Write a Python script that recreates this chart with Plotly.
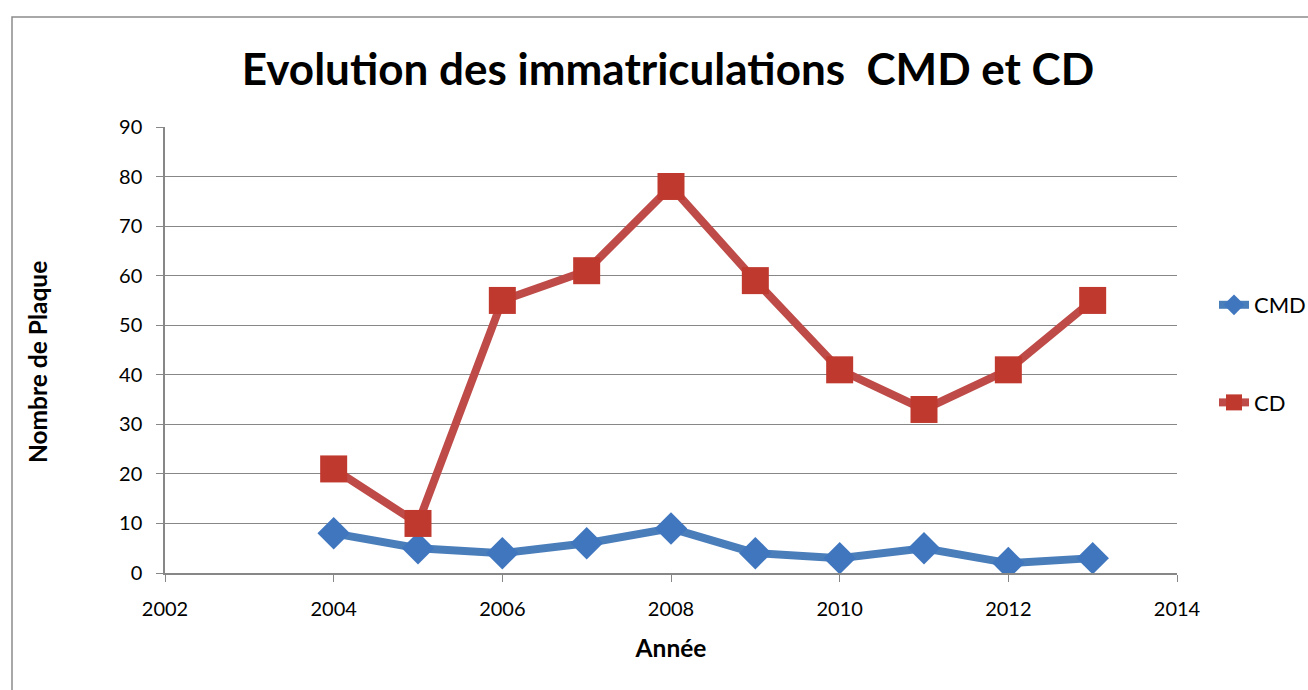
import plotly.graph_objects as go

years = [2004, 2005, 2006, 2007, 2008, 2009, 2010, 2011, 2012, 2013]
cmd = [8, 5, 4, 6, 9, 4, 3, 5, 2, 3]
cd = [21, 10, 55, 61, 78, 59, 41, 33, 41, 55]

W, H = 1330, 700
L, T = 165, 127
pw, ph = 1012, 446
R, B = W - L - pw, H - T - ph

fig = go.Figure()
fig.add_trace(go.Scatter(
    x=years, y=cmd, name="CMD", mode="lines+markers", legendgroup="a",
    line=dict(color="#4A7EBB", width=8),
    marker=dict(symbol="diamond", size=25, color="#3F76BE", line=dict(width=0)),
))
fig.add_trace(go.Scatter(
    x=years, y=cd, name="CD", mode="lines+markers", legendgroup="b",
    line=dict(color="#BE4B48", width=8),
    marker=dict(symbol="square", size=27, color="#C0392F", line=dict(width=0)),
))

fig.add_shape(type="rect", xref="paper", yref="paper",
              x0=(12 - L) / pw, x1=1.3, y0=-0.4, y1=1 + (T - 17) / ph,
              line=dict(color="#8C8C8C", width=1.5), layer="below")

font = "Lato, 'Open Sans', sans-serif"
fig.add_annotation(text="<b>Nombre de Plaque</b>", textangle=-90, showarrow=False,
                   xref="paper", yref="paper", x=(37 - L) / pw, y=(T + ph - 362) / ph,
                   xanchor="center", yanchor="middle",
                   font=dict(family=font, size=24.5, color="black"))

fig.update_layout(
    width=W, height=H,
    margin=dict(l=L, r=R, t=T, b=B, autoexpand=False),
    paper_bgcolor="white", plot_bgcolor="white",
    title=dict(text="<b>Evolution des immatriculations  CMD et CD</b>",
               x=668 / W, xanchor="center", y=1 - 70 / H, yanchor="middle",
               font=dict(family=font, size=44, color="black")),
    font=dict(family=font, size=20, color="black"),
    legend=dict(x=(1214 - L) / pw, y=0.648, xanchor="left", yanchor="top",
                tracegroupgap=66, font=dict(size=22), bgcolor="rgba(0,0,0,0)"),
    showlegend=True,
)
fig.update_xaxes(range=[2002, 2014], tickvals=[2002, 2004, 2006, 2008, 2010, 2012, 2014],
                 showgrid=False, showline=True, linecolor="#878787", linewidth=1.5,
                 ticks="outside", ticklen=7, tickcolor="#878787", zeroline=False,
                 ticklabelstandoff=10, automargin=False,
                 title=dict(text="<b>Année</b>", font=dict(size=24.5), standoff=21),
                 tickfont=dict(size=20))
fig.update_yaxes(range=[0, 90], tickvals=list(range(0, 91, 10)),
                 showgrid=True, gridcolor="#878787", gridwidth=1.2,
                 showline=True, linecolor="#878787", linewidth=1.5,
                 ticks="outside", ticklen=7, tickcolor="#878787", zeroline=False,
                 ticklabelstandoff=10, automargin=False,
                 tickfont=dict(size=20))

fig.write_html("out.html", config={"displayModeBar": False},
               post_script="document.body.style.margin='0px';document.body.style.overflow='hidden';")
